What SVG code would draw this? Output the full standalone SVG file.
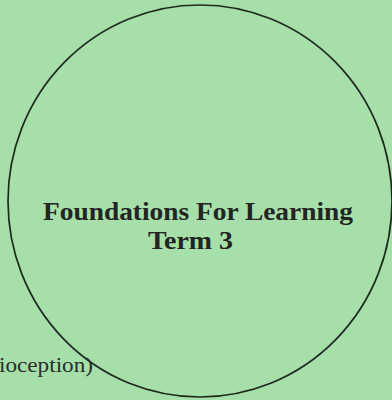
<svg xmlns="http://www.w3.org/2000/svg" width="392" height="400" viewBox="0 0 392 400">
<style>
.bg{fill:#a7dfaa}
.ring{fill:none;stroke:#1c2b1e;stroke-width:1.7}
.title{font-family:"Liberation Serif","DejaVu Serif",serif;font-weight:bold;fill:#222522;text-anchor:middle}
.side{font-family:"Liberation Serif","DejaVu Serif",serif;fill:#2a2e2a}
</style>
<rect class="bg" x="0" y="0" width="392" height="400"/>
<g id="center-node">
<ellipse class="ring" cx="200" cy="201" rx="192" ry="196"/>
<text class="title" x="198" y="220" font-size="26" textLength="310" lengthAdjust="spacingAndGlyphs">Foundations For Learning</text>
<text class="title" x="190.5" y="249" font-size="26" textLength="85" lengthAdjust="spacingAndGlyphs">Term 3</text>
</g>
<g id="side-label">
<text class="side" x="-1" y="372" font-size="22" textLength="94" lengthAdjust="spacingAndGlyphs">ioception)</text>
</g>
</svg>
